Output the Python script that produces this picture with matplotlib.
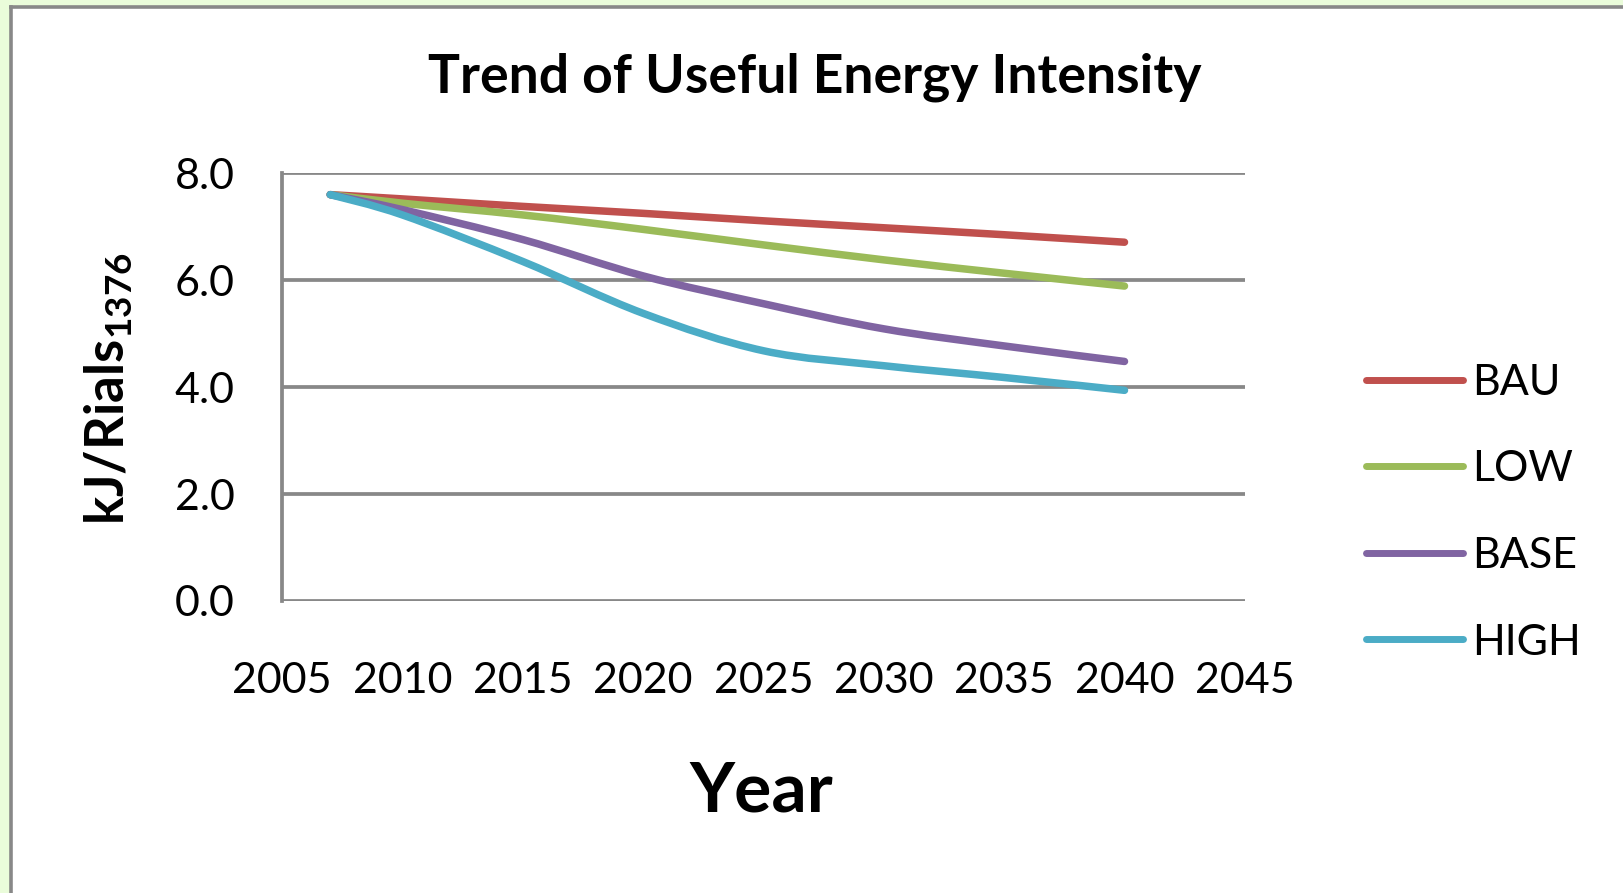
import matplotlib
matplotlib.use('Agg')
from matplotlib import pyplot as plt
from matplotlib.path import Path
from matplotlib.patches import PathPatch, Rectangle
from matplotlib.lines import Line2D

plt.rcParams['font.family'] = ['Lato', 'DejaVu Sans']

# values
years = [2007, 2010, 2015, 2020, 2025, 2030, 2035, 2040]
bau = [7.60, 7.52, 7.38, 7.25, 7.11, 6.98, 6.85, 6.71]
low = [7.60, 7.44, 7.22, 6.95, 6.66, 6.38, 6.13, 5.89]
base = [7.60, 7.32, 6.76, 6.08, 5.56, 5.09, 4.77, 4.48]
high = [7.60, 7.22, 6.35, 5.38, 4.68, 4.40, 4.18, 3.94]

series_names = ['BAU', 'LOW', 'BASE', 'HIGH']
colors = ['#C0504D', '#9BBB59', '#8064A2', '#4BACC6']

yticks = [0, 2, 4, 6, 8]
xticks = [2005, 2010, 2015, 2020, 2025, 2030, 2035, 2040, 2045]


def smooth_path(x, y):
    # Excel-like smoothed line: cubic bezier segments through the points
    verts = [(x[0], y[0])]
    codes = [Path.MOVETO]
    n = len(x)
    for i in range(n - 1):
        i0 = max(i - 1, 0)
        i3 = min(i + 2, n - 1)
        c1 = (x[i] + (x[i + 1] - x[i0]) / 6, y[i] + (y[i + 1] - y[i0]) / 6)
        c2 = (x[i + 1] - (x[i3] - x[i]) / 6, y[i + 1] - (y[i3] - y[i]) / 6)
        verts += [c1, c2, (x[i + 1], y[i + 1])]
        codes += [Path.CURVE4] * 3
    return Path(verts, codes)


fig = plt.figure(figsize=(16.23, 8.93), dpi=100)
fig.patch.set_facecolor('white')

# outer frame: pale green margin and grey border (top and left only)
fig.patches.append(Rectangle((0, 0), 1, 1, transform=fig.transFigure,
                             facecolor='#EAFCDA', edgecolor='none', zorder=-3))
fig.patches.append(Rectangle((0.0068, 0), 1, 0.9925, transform=fig.transFigure,
                             facecolor='white', edgecolor='none', zorder=-2))
fig.add_artist(Line2D([0.0068, 0.0068], [0, 0.9925], transform=fig.transFigure,
                      color='#888888', lw=2.6))
fig.add_artist(Line2D([0.0068, 1], [0.9925, 0.9925], transform=fig.transFigure,
                      color='#888888', lw=2.6))

ax = fig.add_axes([0.1738, 0.327, 0.5932, 0.479])
ax.set_facecolor('white')

handles = []
for vals, name, c in zip([bau, low, base, high], series_names, colors):
    patch = PathPatch(smooth_path(years, vals), facecolor='none', edgecolor=c,
                      lw=5.4, capstyle='round', joinstyle='round', zorder=3)
    ax.add_patch(patch)
    handles.append(Line2D([], [], color=c, lw=5.0, solid_capstyle='round', label=name))

ax.set_xlim(2005, 2045)
ax.set_ylim(0, 8)
ax.set_yticks(yticks)
ax.set_yticklabels(['%.1f' % v for v in yticks])
ax.set_xticks(xticks)
ax.tick_params(length=0, labelsize=31)
ax.tick_params(axis='y', pad=34)
ax.tick_params(axis='x', pad=44)
ax.yaxis.grid(True, color='#888888', lw=2.7)
ax.set_axisbelow(True)
for s in ['top', 'right']:
    ax.spines[s].set_visible(False)
ax.spines['bottom'].set_visible(False)
ax.spines['left'].set_color('#888888')
ax.spines['left'].set_linewidth(2.7)

fig.text(0.502, 0.914, 'Trend of Useful Energy Intensity', ha='center', va='center',
         fontsize=38.5, fontweight='bold')
fig.text(0.469, 0.113, 'Year', ha='center', va='center', fontsize=50, fontweight='bold')
fig.text(0.067, 0.565, r'kJ/Rials$_{\mathregular{1376}}$', ha='center', va='center',
         rotation=90, fontsize=38, fontweight='bold')

fig.legend(handles=handles, loc='center left', bbox_to_anchor=(0.818, 0.426),
           frameon=False, fontsize=31, handlelength=2.25, handletextpad=0.2,
           labelspacing=1.13)

plt.savefig('out.png', dpi=100)
